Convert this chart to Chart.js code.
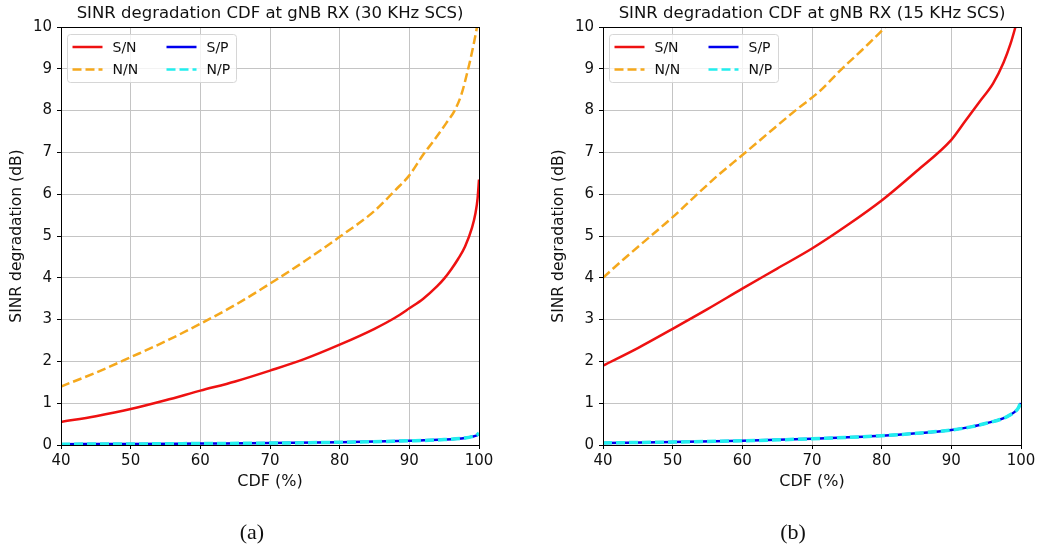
<!DOCTYPE html>
<html>
<head>
<meta charset="utf-8">
<title>SINR degradation CDF at gNB RX</title>
<script src="https://cdn.jsdelivr.net/npm/chart.js@4/dist/chart.umd.min.js"></script>
<style>
  html, body { margin: 0; padding: 0; background: #fff; }
  #wrap { position: relative; width: 1040px; height: 550px; overflow: hidden; }
  canvas { position: absolute; top: 0; }
  #cvA { left: 0; }
  #cvB { left: 520px; }
  .cap { position: absolute; top: 519px; width: 60px; text-align: center;
         font-family: "Liberation Serif", "DejaVu Serif", serif; font-size: 22px; color: #111; }
</style>
</head>
<body>
<div id="wrap">
  <canvas id="cvA" width="520" height="550"></canvas>
  <canvas id="cvB" width="520" height="550"></canvas>
  <div class="cap" style="left:222px">(a)</div>
  <div class="cap" style="left:763px">(b)</div>
</div>
<script>
// ---- axis ticks ----
const cdfTicks = [40, 50, 60, 70, 80, 90, 100];
const dbTicks = [0, 1, 2, 3, 4, 5, 6, 7, 8, 9, 10];

// ---- 30 KHz SCS ----
const sn30X = [40, 45, 50, 55, 60, 65, 70, 75, 80, 85, 88, 90, 92, 94, 95, 96, 97, 98, 99, 99.5, 99.8, 100];
const sn30Y = [0.55, 0.69, 0.86, 1.07, 1.3, 1.52, 1.78, 2.06, 2.4, 2.78, 3.05, 3.27, 3.5, 3.8, 3.98, 4.2, 4.45, 4.75, 5.2, 5.55, 5.9, 6.35];
const nn30X = [40, 45, 50, 55, 60, 65, 70, 75, 80, 85, 88, 90, 92, 93.6, 95.3, 96.5, 97.5, 98.3, 99, 99.6, 100];
const nn30Y = [1.4, 1.73, 2.1, 2.48, 2.9, 3.35, 3.86, 4.4, 4.98, 5.6, 6.1, 6.45, 6.95, 7.3, 7.7, 8.0, 8.4, 8.9, 9.4, 9.9, 10.3];
const sp30X = [40, 50, 60, 70, 80, 90, 95, 98, 99, 99.7, 100];
const sp30Y = [0.02, 0.025, 0.035, 0.045, 0.065, 0.1, 0.13, 0.17, 0.2, 0.23, 0.26];
const np30X = [40, 50, 60, 70, 80, 90, 95, 98, 99, 99.7, 100];
const np30Y = [0.02, 0.025, 0.035, 0.045, 0.065, 0.1, 0.13, 0.17, 0.2, 0.24, 0.29];

// ---- 15 KHz SCS ----
const sn15X = [40, 45, 50, 55, 60, 65, 70, 75, 80, 85, 90, 92, 94, 96, 97.5, 98.5, 99.2, 100];
const sn15Y = [1.9, 2.32, 2.78, 3.25, 3.74, 4.22, 4.7, 5.25, 5.85, 6.55, 7.3, 7.75, 8.2, 8.65, 9.15, 9.6, 10.0, 10.5];
const nn15X = [40, 43, 46.5, 50, 53.2, 56.5, 60.1, 64, 67.6, 71, 74.3, 77.5, 80.5, 82];
const nn15Y = [4.0, 4.45, 4.95, 5.45, 5.95, 6.45, 6.95, 7.5, 8.0, 8.45, 9.0, 9.5, 10.0, 10.3];
const sp15X = [40, 50, 60, 70, 80, 85, 90, 93, 95, 97, 98, 99, 99.6, 100];
const sp15Y = [0.05, 0.07, 0.1, 0.15, 0.22, 0.28, 0.36, 0.44, 0.52, 0.61, 0.68, 0.78, 0.88, 1.0];
const np15X = [40, 50, 60, 70, 80, 85, 90, 93, 95, 97, 98, 99, 99.6, 100];
const np15Y = [0.05, 0.07, 0.1, 0.15, 0.22, 0.28, 0.36, 0.44, 0.52, 0.61, 0.68, 0.78, 0.88, 1.05];

const seriesNames = ['S/N', 'N/N', 'S/P', 'N/P'];

const FONT = '"DejaVu Sans", Verdana, sans-serif';
const INK = '#111';

function pts(xs, ys) { return xs.map((x, i) => ({ x: x, y: ys[i] })); }

// panel title centred over the plot area
const panelTitle = {
  id: 'panelTitle',
  afterDraw(chart, args, opts) {
    const { ctx, chartArea } = chart;
    ctx.save();
    ctx.font = '16.5px ' + FONT;
    ctx.fillStyle = INK;
    ctx.textAlign = 'center';
    ctx.textBaseline = 'middle';
    ctx.fillText(opts.text, (chartArea.left + chartArea.right) / 2, 14);
    ctx.restore();
  }
};

// box around the axes, then the two-column legend in the upper-left corner
const frameAndLegend = {
  id: 'frameAndLegend',
  afterDatasetsDraw(chart) {
    const { ctx, chartArea: a } = chart;
    ctx.save();
    ctx.strokeStyle = '#000';
    ctx.lineWidth = 1;
    ctx.strokeRect(Math.round(a.left) + 0.5, Math.round(a.top) + 0.5,
                   Math.round(a.right - a.left), Math.round(a.bottom - a.top));

    const bx = a.left + 6.5, by = a.top + 7.5, bw = 169, bh = 48, r = 3;
    ctx.beginPath();
    ctx.moveTo(bx + r, by);
    ctx.arcTo(bx + bw, by, bx + bw, by + bh, r);
    ctx.arcTo(bx + bw, by + bh, bx, by + bh, r);
    ctx.arcTo(bx, by + bh, bx, by, r);
    ctx.arcTo(bx, by, bx + bw, by, r);
    ctx.closePath();
    ctx.fillStyle = 'rgba(255,255,255,0.8)';
    ctx.fill();
    ctx.strokeStyle = '#d6d6d6';
    ctx.stroke();

    ctx.font = '14px ' + FONT;
    ctx.textBaseline = 'middle';
    ctx.textAlign = 'left';
    chart.data.datasets.forEach((ds, i) => {
      const col = Math.floor(i / 2), row = i % 2;
      const x0 = a.left + 11.5 + col * 94;
      const y = a.top + 20 + row * 22.6;
      ctx.beginPath();
      ctx.setLineDash(ds.borderDash || []);
      ctx.strokeStyle = ds.borderColor;
      ctx.lineWidth = 2.5;
      ctx.moveTo(x0, y);
      ctx.lineTo(x0 + 30, y);
      ctx.stroke();
      ctx.setLineDash([]);
      ctx.fillStyle = INK;
      ctx.fillText(ds.label, x0 + 40, y + 1);
    });
    ctx.restore();
  }
};

function buildPanel(id, title, padL, padR, sn, nn, sp, np) {
  const tickFont = { family: FONT, size: 15 };
  return new Chart(document.getElementById(id), {
    type: 'line',
    data: {
      datasets: [
        { label: seriesNames[0], data: sn, borderColor: '#ee1111', borderWidth: 2.5, order: 3 },
        { label: seriesNames[1], data: nn, borderColor: '#f5a81c', borderWidth: 2.5, borderDash: [9, 4], order: 2 },
        { label: seriesNames[2], data: sp, borderColor: '#0000ee', borderWidth: 2.5, order: 1 },
        { label: seriesNames[3], data: np, borderColor: '#22eeee', borderWidth: 3.5, borderDash: [9, 4], order: 0 }
      ]
    },
    options: {
      responsive: false,
      animation: false,
      devicePixelRatio: 1,
      layout: { padding: { left: padL, right: padR, top: 27, bottom: 55 } },
      elements: {
        point: { radius: 0 },
        line: { cubicInterpolationMode: 'monotone', fill: false }
      },
      plugins: {
        legend: { display: false },
        tooltip: { enabled: false },
        panelTitle: { text: title }
      },
      scales: {
        x: {
          type: 'linear',
          min: 40, max: 100,
          afterBuildTicks(s) { s.ticks = cdfTicks.map(v => ({ value: v })); },
          afterFit(s) { s.height = 50; },
          grid: { color: '#c4c4c4', lineWidth: 1, tickLength: 4, tickColor: '#000' },
          border: { color: '#000', width: 1 },
          ticks: { font: tickFont, color: INK, padding: 3, maxRotation: 0 },
          title: { display: true, text: 'CDF (%)', font: { family: FONT, size: 16 }, color: INK, padding: { top: 0, bottom: 4 } }
        },
        y: {
          type: 'linear',
          min: 0, max: 10,
          afterBuildTicks(s) { s.ticks = dbTicks.map(v => ({ value: v })); },
          afterFit(s) { s.width = 61; },
          grid: { color: '#c4c4c4', lineWidth: 1, tickLength: 4, tickColor: '#000' },
          border: { color: '#000', width: 1 },
          ticks: { font: tickFont, color: INK, padding: 5 },
          title: { display: true, text: 'SINR degradation (dB)', font: { family: FONT, size: 15.5 }, color: INK, padding: { top: 8, bottom: 0 } }
        }
      }
    },
    plugins: [panelTitle, frameAndLegend]
  });
}

buildPanel('cvA', 'SINR degradation CDF at gNB RX (30 KHz SCS)', 0, 41,
  pts(sn30X, sn30Y), pts(nn30X, nn30Y), pts(sp30X, sp30Y), pts(np30X, np30Y));
buildPanel('cvB', 'SINR degradation CDF at gNB RX (15 KHz SCS)', 22, 19,
  pts(sn15X, sn15Y), pts(nn15X, nn15Y), pts(sp15X, sp15Y), pts(np15X, np15Y));
</script>
</body>
</html>
